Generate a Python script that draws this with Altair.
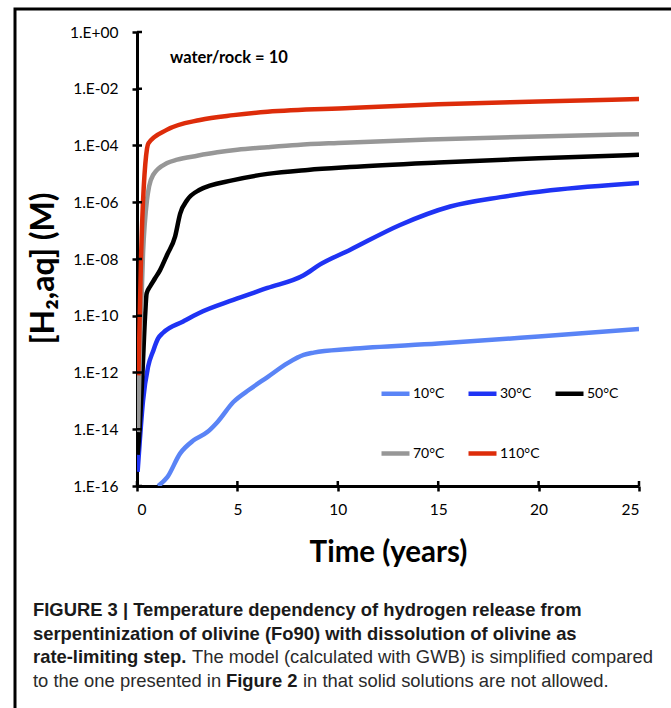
import altair as alt
import pandas as pd

# ---- data (log10 of [H2,aq] in M) ----
series = ["10°C", "30°C", "50°C", "70°C", "110°C"]
colors = ["#5A84F6", "#1F33F4", "#000000", "#979797", "#DD2C0A"]

t_10 = [1.05, 1.5, 2.15, 2.8, 3.5, 4.0, 4.8, 5.6, 6.5, 7.5, 8.3, 8.8, 10.6, 15, 20, 25]
log_10 = [-16.0, -15.7, -14.85, -14.4, -14.1, -13.75, -13.04, -12.6, -12.16, -11.67, -11.38,
          -11.3, -11.17, -10.98, -10.73, -10.47]

t_30 = [0.03, 0.15, 0.3, 0.55, 0.8, 1.05, 1.3, 2.3, 3.1, 4.8, 6.5, 8.3, 9.1, 10.6, 13.1, 15.6,
        18.1, 20.6, 25]
log_30 = [-15.5, -14.3, -13.0, -11.8, -11.25, -10.8, -10.6, -10.2, -9.9, -9.44, -9.02, -8.57,
          -8.2, -7.68, -6.8, -6.15, -5.82, -5.58, -5.32]

t_50 = [0.03, 0.08, 0.25, 0.4, 0.48, 0.65, 0.9, 1.15, 1.5, 1.9, 2.15, 2.5, 3.1, 4.8, 6.5, 8.5,
        10.6, 15, 20, 25]
log_50 = [-14.9, -14.5, -12.37, -10.04, -9.21, -8.97, -8.68, -8.39, -7.85, -7.2, -6.4, -5.92,
          -5.57, -5.22, -5.0, -4.86, -4.76, -4.6, -4.45, -4.33]

t_70 = [0.05, 0.15, 0.3, 0.5, 0.6, 0.8, 1.5, 2.0, 3.0, 4.0, 5.0, 6.5, 8.0, 10, 15, 20, 25]
log_70 = [-14.1, -11.0, -7.8, -5.9, -5.45, -5.04, -4.62, -4.5, -4.36, -4.24, -4.15, -4.06,
          -3.98, -3.91, -3.78, -3.68, -3.6]

t_110 = [0.07, 0.2, 0.5, 0.57, 1.48, 3.14, 4.8, 6.5, 10.6, 15, 20, 25]
log_110 = [-12.1, -8.0, -4.1, -3.92, -3.45, -3.1, -2.93, -2.81, -2.68, -2.55, -2.45, -2.36]

x_ticks = [0, 5, 10, 15, 20, 25]
y_ticks = [1e0, 1e-2, 1e-4, 1e-6, 1e-8, 1e-10, 1e-12, 1e-14, 1e-16]

rows = []
for name, ts, ls in zip(series, [t_10, t_30, t_50, t_70, t_110],
                        [log_10, log_30, log_50, log_70, log_110]):
    for i, (t, l) in enumerate(zip(ts, ls)):
        rows.append({"series": name, "t": t, "c": 10 ** l, "order": i})
df = pd.DataFrame(rows)

W, H = 502, 454
FONT = "Lato"
CAP_FONT = "Liberation Sans"

x_scale = alt.Scale(domain=[0, 25], nice=False, zero=False)
y_scale = alt.Scale(type="log", domain=[1e-16, 1], nice=False)

lines = alt.Chart(df).mark_line(strokeWidth=4.5, interpolate="monotone", clip=True).encode(
    x=alt.X("t:Q", scale=x_scale,
            axis=alt.Axis(values=x_ticks, title="Time (years)", grid=False,
                          domainColor="black", domainWidth=3, tickColor="black",
                          tickWidth=2.5, tickSize=5, labelFont=FONT, labelFontSize=15.5,
                          labelColor="black", labelPadding=11, titleFont=FONT,
                          titleFontSize=29.5, titleFontWeight="bold", titleColor="black",
                          titleBaseline="alphabetic", titleY=75)),
    y=alt.Y("c:Q", scale=y_scale,
            axis=alt.Axis(values=y_ticks, title="[H₂,aq] (M)", grid=False,
                          labelExpr="'1.E' + (datum.value >= 1 ? '+00' : '-' + format(-round(log(datum.value)/LN10), '02d'))",
                          domainColor="black", domainWidth=3, tickColor="black",
                          tickWidth=2.5, tickSize=5, labelFont=FONT, labelFontSize=15.5,
                          labelColor="black", labelPadding=14, titleFont=FONT,
                          titleFontSize=32, titleFontWeight="bold", titleColor="black",
                          titleBaseline="alphabetic", titleAlign="center",
                          titleX=-84, titleY=236, titleAngle=270)),
    color=alt.Color("series:N", scale=alt.Scale(domain=series, range=colors),
                    legend=alt.Legend(title=None, orient="none", legendX=242, legendY=345,
                                      direction="horizontal", columns=3, gridAlign="all",
                                      columnPadding=6, rowPadding=34, symbolType="stroke",
                                      symbolSize=784, symbolStrokeWidth=4.5, labelFont=FONT,
                                      labelFontSize=14, labelColor="black", labelOffset=1,
                                      padding=0)),
    order="order:Q",
)

xt = pd.DataFrame({"t": x_ticks})
x_inner = alt.Chart(xt).mark_rule(color="black", strokeWidth=2.5).encode(
    x=alt.X("t:Q", scale=x_scale), y=alt.value(H - 5), y2=alt.value(H))

yt = pd.DataFrame({"c": y_ticks})
y_inner = alt.Chart(yt).mark_rule(color="black", strokeWidth=2.5).encode(
    y=alt.Y("c:Q", scale=y_scale), x=alt.value(0), x2=alt.value(5))

one = pd.DataFrame({"k": [0]})


def text_at(txt, x, y, size, weight="normal", font=FONT, color="black"):
    return alt.Chart(pd.DataFrame({"txt": [txt]})).mark_text(
        align="left", baseline="alphabetic", font=font, fontSize=size,
        fontWeight=weight, color=color).encode(
        x=alt.value(x), y=alt.value(y), text="txt:N")


note = text_at("water/rock = 10", 33, 31, 16.5, "bold")

# caption (positions relative to plot origin at 137,32)
cx = 33 - 137
b0 = 616 - 32
ls = 23.7
CS = 18.4
cap = [
    text_at("FIGURE 3 | Temperature dependency of hydrogen release from", cx, b0, CS, "bold", CAP_FONT, "#1a1a1a"),
    text_at("serpentinization of olivine (Fo90) with dissolution of olivine as", cx, b0 + ls, CS, "bold", CAP_FONT, "#1a1a1a"),
    text_at("rate-limiting step.", cx, b0 + 2 * ls, CS, "bold", CAP_FONT, "#1a1a1a"),
    text_at("The model (calculated with GWB) is simplified compared", cx + 159, b0 + 2 * ls, CS, "normal", CAP_FONT, "#2a2a2a"),
    text_at("to the one presented in", cx, b0 + 3 * ls, CS, "normal", CAP_FONT, "#2a2a2a"),
    text_at("Figure 2", cx + 193, b0 + 3 * ls, CS, "bold", CAP_FONT, "#1a1a1a"),
    text_at("in that solid solutions are not allowed.", cx + 270, b0 + 3 * ls, CS, "normal", CAP_FONT, "#2a2a2a"),
]

border = alt.Chart(one).mark_rect(fillOpacity=0, stroke="black", strokeWidth=3).encode(
    x=alt.value(-122), x2=alt.value(720), y=alt.value(-23), y2=alt.value(800))

chart = alt.layer(border, lines, x_inner, y_inner, note, *cap).properties(
    width=W, height=H,
    autosize=alt.AutoSizeParams(type="none"),
    padding={"left": 137, "top": 32, "right": 32, "bottom": 222},
    background="white",
).configure_view(stroke=None)

chart.save("out.html", embed_options={"renderer": "svg", "actions": False})
